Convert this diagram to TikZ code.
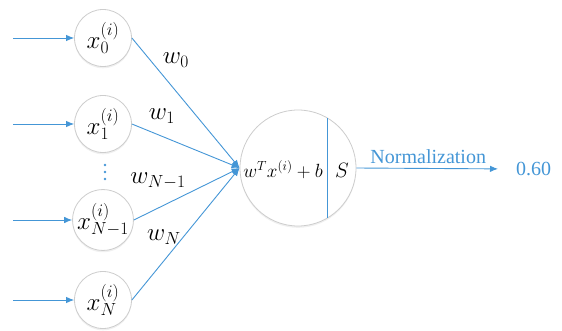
\RequirePackage{fix-cm}
\documentclass[tikz,border=0pt]{standalone}
\usepackage{graphicx}
\usepackage{fontspec}
\setmainfont{Liberation Serif}
\newfontfamily\timesrm{Liberation Serif}
\usetikzlibrary{arrows.meta,positioning,shadows,calc}
\definecolor{linkblue}{RGB}{68,150,214}
\definecolor{ringgray}{RGB}{205,205,205}

\begin{document}
\begin{tikzpicture}[
  x=1pt, y=-1pt, >={Latex[length=8pt,width=6.5pt]},
  unit/.style={circle, draw=ringgray, fill=white, line width=0.8pt,
    minimum size=57pt, inner sep=0pt,
    drop shadow={opacity=0.12, shadow xshift=0pt, shadow yshift=-1.8pt},
    font=\fontsize{25}{27}\selectfont},
  link/.style={draw=linkblue, line width=0.9pt},
  wlbl/.style={font=\fontsize{25}{27}\selectfont},
  bluetxt/.style={text=linkblue, font=\timesrm\fontsize{20}{22}\selectfont},
]
\useasboundingbox (0,0) rectangle (562,331);

% Input units with their feeding arrows
\foreach \n/\y/\s in {x0/38/0, x1/124/1, xm/220/{N-1}, xn/300/N}{
  \node[unit] (\n) at (103,\y) {$x_{\s}^{(i)}$};
  \coordinate (\n-in) at (13,\y);
  \draw[link,->] (\n-in) -- (\n);
}

% Vertical dots between x1 and x_{N-1}
\foreach \y in {165,172,179}{ \fill[linkblue] (105,\y) circle (1.4pt); }

% Neuron: weighted sum | activation
\node[unit, minimum size=116pt] (neuron) at (298,168) {};
\node[inner sep=1pt, font=\fontsize{20.74}{22}\selectfont] (sum) at (283,170)
  {\scalebox{0.92}{$w^{T}x^{(i)}+b$}};
\node[inner sep=1pt, font=\fontsize{20.74}{22}\selectfont] (act) at (342,170) {$S$};

% Weighted links
\foreach \n in {x0,x1,xm,xn}{
  \draw[link,->] (\n.east) -- (neuron.west);
}
\node[wlbl] (w0) at (176,60)  {$w_{0}$};
\node[wlbl] (w1) at (162,116) {$w_{1}$};
\node[wlbl] (wm) at (158,181) {$w_{N-1}$};
\node[wlbl] (wn) at (164,237) {$w_{N}$};

% Split between sum and activation
\draw[link, line width=1pt] ($(neuron.center)+(29.4,-50)$) -- ($(neuron.center)+(29.4,50)$);

% Output
\node[bluetxt, inner sep=0pt, anchor=west] (out) at (516,169) {0.60};
\draw[link,->, shorten >=18pt] (neuron.east) -- (out.west)
  node[pos=0.45, above=1pt, bluetxt] {Normalization};

\end{tikzpicture}
\end{document}
